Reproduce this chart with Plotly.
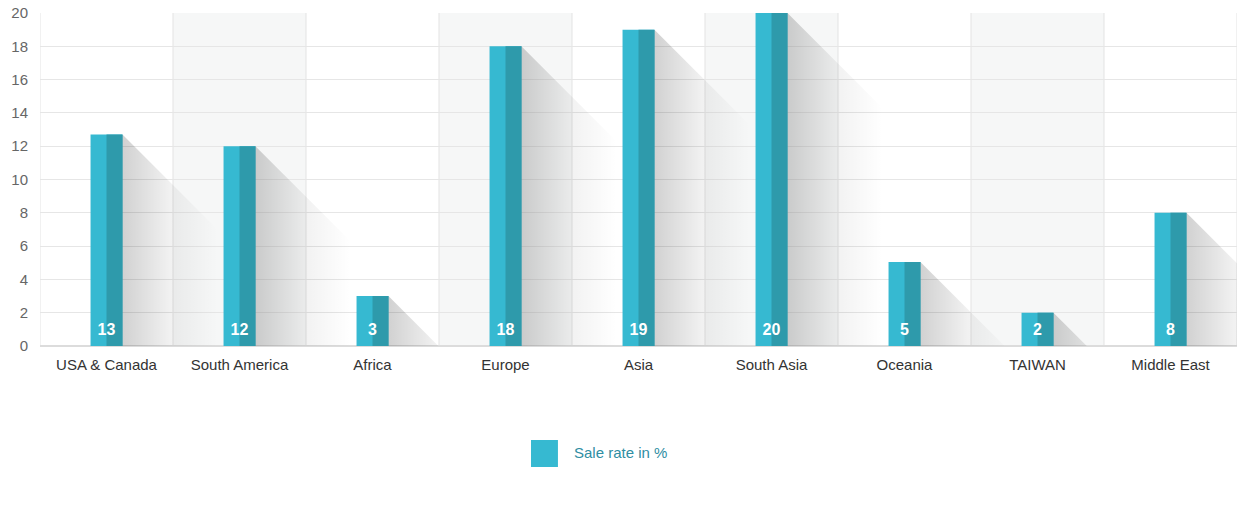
import plotly.graph_objects as go

categories = ["USA & Canada", "South America", "Africa", "Europe", "Asia",
              "South Asia", "Oceania", "TAIWAN", "Middle East"]
values = [12.7, 12.0, 3.0, 18.0, 19.0, 20.0, 5.05, 2.0, 8.0]
labels = ["13", "12", "3", "18", "19", "20", "5", "2", "8"]
series_name = "Sale rate in %"
y_ticks = list(range(0, 21, 2))

LIGHT = "#36b9d1"
DARK = "#2e9aab"
BAR_W = 0.24
PX_X = 1197 / 9.0      # pixels per x unit
PX_Y = 333 / 20.0      # pixels per y unit
FADE = 95 / PX_X       # shadow fade length in x units

xs = list(range(len(categories)))
fig = go.Figure()

# long shadows
for i, v in zip(xs, values):
    x0 = i + BAR_W / 2
    x1 = x0 + v * PX_Y / PX_X
    fig.add_trace(go.Scatter(
        x=[x0, x0, x1, x0], y=[v, 0, 0, v], mode="lines", fill="toself",
        line=dict(width=0), hoverinfo="skip", showlegend=False,
        fillgradient=dict(type="horizontal", start=x0, stop=x0 + FADE,
                          colorscale=[[0, "rgba(0,0,0,0.18)"], [0.5, "rgba(0,0,0,0.055)"], [1, "rgba(0,0,0,0)"]]),
    ))

fig.add_trace(go.Bar(x=xs, y=values, width=BAR_W, marker=dict(color=LIGHT, line=dict(width=0)),
                     name=series_name, showlegend=False, hoverinfo="skip"))
fig.add_trace(go.Bar(x=xs, y=values, width=BAR_W / 2, offset=0, marker=dict(color=DARK, line=dict(width=0)),
                     showlegend=False, hoverinfo="skip"))
fig.add_trace(go.Scatter(x=xs, y=[0.92] * len(xs), mode="text", text=labels,
                         textfont=dict(color="white", size=16, family="Liberation Sans, Arial", weight="bold"),
                         showlegend=False, hoverinfo="skip"))

shapes = []
for i in xs:
    if i % 2 == 1:
        shapes.append(dict(type="rect", xref="x", yref="paper", x0=i - 0.5, x1=i + 0.5, y0=0, y1=1,
                           fillcolor="#f6f7f7", line=dict(width=0), layer="below"))
for k in range(len(xs) + 1):
    shapes.append(dict(type="line", xref="x", yref="paper", x0=k - 0.5, x1=k - 0.5, y0=0, y1=1,
                       line=dict(color="#e3e3e3", width=1), layer="below"))
# legend swatch
shapes.append(dict(type="rect", xref="paper", yref="paper", x0=0.4102, x1=0.4327, y0=-0.3634, y1=-0.2823,
                   fillcolor=LIGHT, line=dict(width=0)))

fig.update_layout(
    width=1242, height=512,
    margin=dict(l=40, r=5, t=13, b=166),
    plot_bgcolor="white", paper_bgcolor="white",
    barmode="overlay", showlegend=False,
    font=dict(family="Liberation Sans, Arial", size=15, color="#333333"),
    shapes=shapes,
    annotations=[dict(text=series_name, xref="paper", yref="paper", x=0.4445, y=-0.3213,
                      xanchor="left", yanchor="middle", showarrow=False,
                      font=dict(size=15, color="#2f8ea3"))],
    xaxis=dict(range=[-0.5, len(xs) - 0.5], tickmode="array", tickvals=xs, ticktext=categories,
               showgrid=False, zeroline=False, showline=False, ticks="outside", ticklen=5,
               tickcolor="rgba(0,0,0,0)", tickfont=dict(size=15, color="#333333"), automargin=False),
    yaxis=dict(range=[0, 20], tickmode="array", tickvals=y_ticks, showgrid=True, gridcolor="#e6e6e6",
               zeroline=True, zerolinecolor="#dcdcdc", showline=False, ticklabelstandoff=11,
               ticklabeloverflow="allow", automargin=False,
               tickfont=dict(size=15, color="#666666")),
)
fig.write_html("out.html", config={"displayModeBar": False},
               post_script="document.body.style.margin='0';")
